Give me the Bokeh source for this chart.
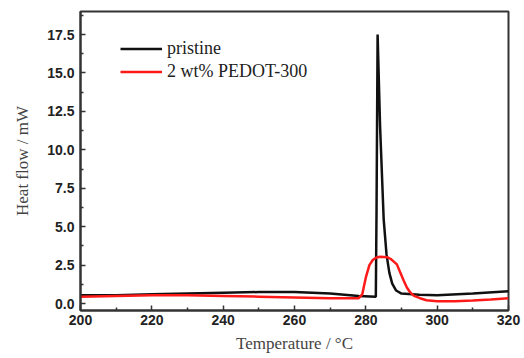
from bokeh.plotting import figure
from bokeh.models import FixedTicker, Legend, LegendItem, Range1d
from bokeh.embed import file_html
from bokeh.resources import INLINE

# pristine
t_pristine = [200, 210, 220, 230, 240, 250, 260, 270, 278, 282.8, 283.0, 283.3,
              284.0, 285.0, 285.8, 286.6, 287.4, 288.5, 290, 295, 300, 310, 320]
hf_pristine = [0.55, 0.55, 0.6, 0.65, 0.7, 0.75, 0.75, 0.65, 0.5, 0.45, 6.0, 17.5,
               11.5, 5.5, 3.2, 2.0, 1.3, 0.85, 0.65, 0.58, 0.55, 0.65, 0.8]

# 2 wt% PEDOT-300
t_pedot = [200, 210, 220, 230, 240, 250, 260, 270, 278, 279, 280, 281, 282, 283,
           284, 286, 287, 288, 288.7, 289.6, 290.6, 291.5, 292.4, 293.5, 295.2,
           297, 300, 305, 310, 315, 320]
hf_pedot = [0.45, 0.5, 0.55, 0.55, 0.5, 0.45, 0.4, 0.35, 0.35, 0.6, 1.7, 2.5, 2.85,
            3.0, 3.05, 3.02, 2.9, 2.7, 2.55, 2.05, 1.5, 1.05, 0.74, 0.5, 0.35,
            0.22, 0.15, 0.15, 0.2, 0.27, 0.35]

x_ticks = [200, 220, 240, 260, 280, 300, 320]
x_minor = [210, 230, 250, 270, 290, 310]
y_ticks = [0.0, 2.5, 5.0, 7.5, 10.0, 12.5, 15.0, 17.5]
y_minor = [1.25, 3.75, 6.25, 8.75, 11.25, 13.75, 16.25, 18.75]

p = figure(width=524, height=358, output_backend="svg", toolbar_location=None,
           x_range=Range1d(200, 320), y_range=Range1d(-0.45, 19.0),
           min_border_left=80, min_border_right=16, min_border_top=11,
           min_border_bottom=48)
p.grid.visible = False
p.outline_line_color = "#333333"
p.outline_line_width = 2

r1 = p.line(t_pristine, hf_pristine, line_color="#111111", line_width=2.5)
r2 = p.line(t_pedot, hf_pedot, line_color="#ff1a1a", line_width=2.5)

for ax in (p.xaxis[0], p.yaxis[0]):
    ax.axis_line_color = "#333333"
    ax.axis_line_width = 2
    ax.major_tick_in = 5
    ax.major_tick_out = 0
    ax.minor_tick_in = 3
    ax.minor_tick_out = 0
    ax.major_tick_line_color = "#333333"
    ax.minor_tick_line_color = "#333333"
    ax.major_tick_line_width = 1.5
    ax.minor_tick_line_width = 1.5
    ax.major_label_text_font = "Liberation Sans"
    ax.major_label_text_font_style = "bold"
    ax.major_label_text_font_size = "14px"
    ax.major_label_text_color = "#222222"
    ax.axis_label_text_font = "Liberation Serif"
    ax.axis_label_text_font_style = "normal"
    ax.axis_label_text_font_size = "17px"
    ax.axis_label_text_color = "#444444"

p.xaxis.ticker = FixedTicker(ticks=x_ticks, minor_ticks=x_minor)
p.yaxis.ticker = FixedTicker(ticks=y_ticks, minor_ticks=y_minor)
p.xaxis.major_label_overrides = {v: str(v) for v in x_ticks}
p.yaxis.major_label_overrides = {v: f"{v:.1f}" for v in y_ticks}
p.xaxis.axis_label = "Temperature / °C"
p.yaxis.axis_label = "Heat flow / mW"
p.xaxis.major_label_standoff = 4
p.yaxis.major_label_standoff = 6
p.xaxis.axis_label_standoff = 6
p.yaxis.axis_label_standoff = 12

legend = Legend(items=[LegendItem(label="pristine", renderers=[r1]),
                       LegendItem(label="2 wt% PEDOT-300", renderers=[r2])],
                location=(40, 228), border_line_color=None,
                background_fill_alpha=0, padding=0, margin=0, spacing=2,
                glyph_width=42, glyph_height=17, label_height=17,
                label_standoff=5, label_text_font="Liberation Serif",
                label_text_font_size="18px", label_text_color="#222222")
p.add_layout(legend)

open("out.html", "w").write(file_html(p, INLINE))
